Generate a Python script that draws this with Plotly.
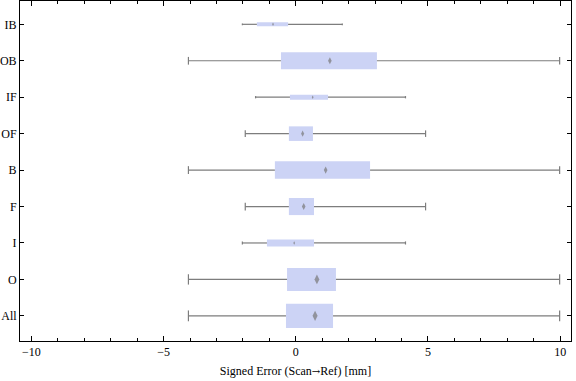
import plotly.graph_objects as go

# ---- data ----
categories = ["All", "O", "I", "F", "B", "OF", "IF", "OB", "IB"]
whisker_low = [-4.06, -4.06, -2.02, -1.91, -4.06, -1.91, -1.52, -4.06, -2.02]
q1 = [-0.37, -0.33, -1.09, -0.26, -0.79, -0.26, -0.22, -0.56, -1.47]
median = [0.73, 0.80, -0.06, 0.30, 1.13, 0.26, 0.64, 1.29, -0.86]
q3 = [1.41, 1.52, 0.69, 0.69, 2.81, 0.65, 1.22, 3.07, -0.29]
whisker_high = [9.98, 9.98, 4.15, 4.91, 9.98, 4.91, 4.15, 9.98, 1.76]
box_widths = [0.66, 0.63, 0.19, 0.47, 0.48, 0.40, 0.14, 0.47, 0.11]

# ---- style ----
BOX_FILL = "rgb(204,211,245)"
WHISKER = "rgb(125,125,125)"
FONT = "Liberation Serif"
CAP_FRAC = 0.45

ypos = list(range(len(categories)))

# whisker segments (outside the box) and caps
wx, wy, cx, cy = [], [], [], []
for i, y in enumerate(ypos):
    wx += [whisker_low[i], q1[i], None, q3[i], whisker_high[i], None]
    wy += [y, y, None, y, y, None]
    h = CAP_FRAC * box_widths[i] / 2
    for v in (whisker_low[i], whisker_high[i]):
        cx += [v, v, None]
        cy += [y - h, y + h, None]

fig = go.Figure()
fig.add_trace(go.Bar(
    y=ypos, x=[b - a for a, b in zip(q1, q3)], base=q1, orientation="h",
    width=box_widths, marker=dict(color=BOX_FILL, line=dict(width=0)),
    hoverinfo="skip", showlegend=False))
fig.add_trace(go.Scatter(x=wx, y=wy, mode="lines",
                         line=dict(color=WHISKER, width=1.2),
                         hoverinfo="skip", showlegend=False))
fig.add_trace(go.Scatter(x=cx, y=cy, mode="lines",
                         line=dict(color=WHISKER, width=1.2),
                         hoverinfo="skip", showlegend=False))
fig.add_trace(go.Scatter(
    x=median, y=ypos, mode="markers",
    marker=dict(symbol="diamond-tall", color="rgb(120,120,120)",
                size=[max(2.5, w * 36.4 * 0.3) for w in box_widths],
                line=dict(width=0)),
    showlegend=False))

fig.update_layout(
    width=576, height=381,
    margin=dict(l=20, r=5, t=1, b=40, autoexpand=False),
    plot_bgcolor="white", paper_bgcolor="white",
    font=dict(family=FONT, size=12, color="black"),
    xaxis=dict(
        range=[-10.43, 10.41], tickvals=[-10, -5, 0, 5, 10],
        ticks="inside", ticklen=5, tickwidth=1, tickcolor="black",
        minor=dict(dtick=1, ticks="inside", ticklen=3, tickcolor="black", showgrid=False),
        showline=True, linecolor="black", linewidth=1, mirror="ticks",
        showgrid=False, zeroline=False, automargin=False,
        title=dict(text="Signed Error (Scan<span style=\"font-family:'DejaVu Serif';font-size:10px\">→</span>Ref) [mm]",
                   standoff=8, font=dict(family=FONT, size=12)),
        tickfont=dict(family=FONT, size=12),
    ),
    yaxis=dict(
        range=[-0.69, 8.64], tickvals=ypos, ticktext=categories,
        ticks="inside", ticklen=4, tickwidth=1, tickcolor="black",
        showline=True, linecolor="black", linewidth=1, mirror="ticks",
        showgrid=False, zeroline=False, automargin=False,
        tickfont=dict(family=FONT, size=12),
    ),
)

fig.write_html("out.html",
               config={"displayModeBar": False},
               post_script="document.body.style.margin='0px';document.body.style.overflow='hidden';")
